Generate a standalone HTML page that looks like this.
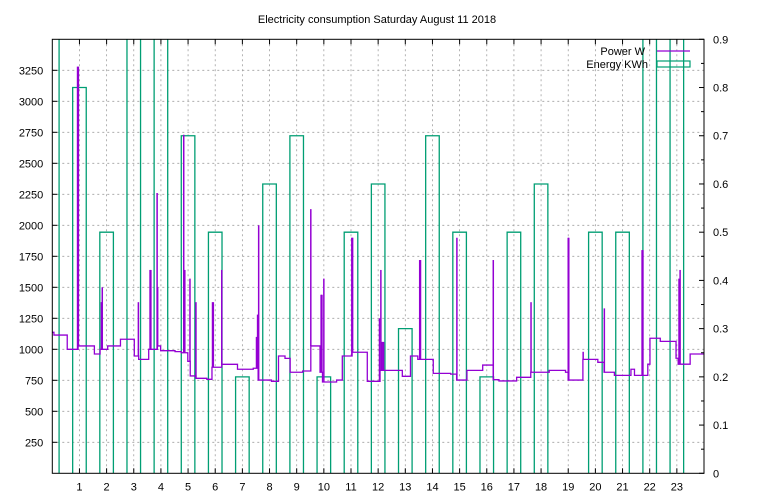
<!DOCTYPE html>
<html><head><meta charset="utf-8"><style>
body{margin:0;background:#fff}
svg{display:block;font-family:"Liberation Sans",sans-serif;font-size:11px}
</style></head><body>
<svg id="c" width="768" height="500">
<text x="377" y="23" text-anchor="middle">Electricity consumption Saturday August 11 2018</text>
<g id="grid"></g><g id="boxes"></g><g id="power"></g><g id="axes"></g>
<g>
<text x="645" y="55" text-anchor="end">Power W</text>
<line x1="657" y1="51" x2="690" y2="51" stroke="#9400d3" stroke-width="1.2"/>
<text x="648" y="68" text-anchor="end">Energy KWh</text>
<rect x="657" y="61" width="33" height="6" fill="none" stroke="#009e73" stroke-width="1.2"/>
</g>
</svg>
<script>
const hours=[0,1,2,3,4,5,6,7,8,9,10,11,12,13,14,15,16,17,18,19,20,21,22,23];
const energy=[1.0,0.8,0.5,1.0,1.0,0.7,0.5,0.2,0.6,0.7,0.2,0.5,0.6,0.3,0.7,0.5,0.2,0.5,0.6,0,0.5,0.5,1.0,1.0];
const stepHours=[0,0.06,0.55,0.95,1.55,1.76,2.04,2.51,3.02,3.18,3.55,3.87,3.99,4.52,4.75,4.99,5.08,5.29,5.69,5.88,6.24,6.82,7.4,7.58,8.07,8.33,8.57,8.76,9.22,9.52,9.86,9.95,10.47,10.68,11.04,11.6,12.07,12.2,12.89,13.19,13.46,14.03,14.67,14.89,15.27,15.85,16.24,16.45,17.1,17.62,18.3,18.9,19.0,19.54,20.09,20.32,20.7,21.31,21.44,21.93,22.01,22.39,22.97,23.05,23.49];
const stepWatts=[1137,1115,1000,1027,962,1000,1027,1081,946,919,1000,1027,989,981,972,903,785,766,758,855,879,839,847,752,742,946,927,815,825,1027,815,736,752,946,976,742,830,830,782,946,919,806,800,752,830,873,755,745,774,815,830,815,752,919,895,815,790,839,790,880,1089,1064,928,880,962];
const spikeHours=[0.93,0.96,1.81,1.84,3.17,3.6,3.63,3.86,3.88,4.84,4.88,5.07,5.29,5.9,5.93,6.24,7.52,7.56,7.6,9.52,9.9,9.93,10.0,11.03,11.06,12.05,12.1,12.15,12.2,13.53,13.56,14.9,16.24,17.63,19.0,19.02,19.55,20.33,21.72,21.75,23.08,23.12];
const spikeWatts=[3280,3280,1380,1500,1380,1640,1640,2260,1500,2730,1640,1570,1380,1380,1380,1640,1100,1280,2000,2130,1440,1440,1570,1900,1900,1250,1640,1060,1060,1720,1720,1900,1720,1380,1900,1900,980,1330,1800,1800,1570,1640];
const yTicks=[250,500,750,1000,1250,1500,1750,2000,2250,2500,2750,3000,3250];
const y2Ticks=[0,0.1,0.2,0.3,0.4,0.5,0.6,0.7,0.8,0.9];
const xTicks=[1,2,3,4,5,6,7,8,9,10,11,12,13,14,15,16,17,18,19,20,21,22,23];
const L=52.3,R=704,T=39.3,B=473.3;
const X=h=>L+(h/24)*(R-L);
const Y=w=>B-(w/3500)*(B-T);
const Y2=e=>B-(e/0.9)*(B-T);
const NS="http://www.w3.org/2000/svg";
function mk(p,tag,a){const e=document.createElementNS(NS,tag);for(const k in a)e.setAttribute(k,a[k]);p.appendChild(e);return e;}
const grid=document.getElementById('grid'),ax=document.getElementById('axes'),bx=document.getElementById('boxes'),pw=document.getElementById('power');
xTicks.forEach(h=>{
 const g=mk(grid,'line',{x1:X(h),x2:X(h),y1:T,y2:B,stroke:'#a0a0a0','stroke-dasharray':'2,3','stroke-width':0.8});
 
 
 const t=mk(ax,'text',{x:X(h),y:B+17,'text-anchor':'middle'});t.textContent=h;
 
 
 mk(ax,'line',{x1:X(h),x2:X(h),y1:B,y2:B-5,stroke:'#000'});
 mk(ax,'line',{x1:X(h),x2:X(h),y1:T,y2:T+5,stroke:'#000'});
});
yTicks.forEach(v=>{
 const g=mk(grid,'line',{x1:L,x2:R,y1:Y(v),y2:Y(v),stroke:'#a0a0a0','stroke-dasharray':'2,3','stroke-width':0.8});
 
 
 const t=mk(ax,'text',{x:L-9,y:Y(v)+4,'text-anchor':'end'});t.textContent=v;
 
 
 mk(ax,'line',{x1:L,x2:L+5,y1:Y(v),y2:Y(v),stroke:'#000'});
});
y2Ticks.forEach(v=>{
 const t=mk(ax,'text',{x:R+9,y:Y2(v)+4});t.textContent=v;
 
 
 mk(ax,'line',{x1:R,x2:R-5,y1:Y2(v),y2:Y2(v),stroke:'#000'});
 if(v<0.9)mk(ax,'line',{x1:R,x2:R-3,y1:Y2(v+0.05),y2:Y2(v+0.05),stroke:'#000'});
});
const fr=mk(ax,'rect',{x:L,y:T,width:R-L,height:B-T,fill:'none',stroke:'#000','stroke-width':1});


// energy boxes
const clip=mk(document.getElementById('c'),'clipPath',{id:'pc'});mk(clip,'rect',{x:L,y:T,width:R-L,height:B-T});
bx.setAttribute('clip-path','url(#pc)');pw.setAttribute('clip-path','url(#pc)');
hours.forEach((h,i)=>{
 if(energy[i]<=0)return;
 const x0=X(h-0.25),x1=X(h+0.25),yt=Y2(energy[i]);
 const r=mk(bx,'path',{d:`M${x0},${B}V${yt}H${x1}V${B}`,fill:'none',stroke:'#009e73','stroke-width':1.3});
 
 
});
// power steps
let d='';
stepHours.forEach((h,i)=>{
 const nx=i<stepHours.length-1?stepHours[i+1]:24;
 d+=(i?'V':'M'+X(h)+',')+Y(stepWatts[i])+'H'+X(nx);
});
const pl=mk(pw,'path',{d:d,fill:'none',stroke:'#9400d3','stroke-width':1.3});


function levelAt(h){let v=stepWatts[0];stepHours.forEach((s,i)=>{if(s<=h)v=stepWatts[i];});return v;}
spikeHours.forEach((h,i)=>{
 const s=mk(pw,'line',{x1:X(h),x2:X(h),y1:Y(levelAt(h)),y2:Y(spikeWatts[i]),stroke:'#9400d3','stroke-width':1.5});
 
 
});
</script>
</body></html>
